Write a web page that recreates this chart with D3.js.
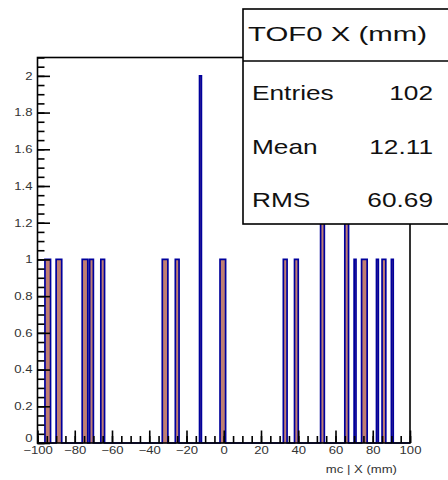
<!DOCTYPE html>
<html>
<head>
<meta charset="utf-8">
<script src="https://cdn.jsdelivr.net/npm/d3@7"></script>
<style>
  html, body { margin: 0; padding: 0; background: #fff; }
  svg { display: block; }
  text { font-family: "Liberation Sans", Arial, Helvetica, sans-serif; }
</style>
</head>
<body>
<div id="chart"></div>
<script>
// TOF0 X (mm): 1 mm bins from -100 to 100, only the filled bins are listed
const binLow  = [-96, -95, -94, -90, -89, -88, -76, -75, -74, -72, -71, -66, -65,
                 -33, -32, -31, -26, -25, -13, -2, -1, 0,
                 32, 33, 38, 39, 52, 53, 65, 66, 70,
                 74, 75, 76, 82, 85, 86, 90];
const binCount = [1, 1, 1, 1, 1, 1, 1, 1, 1, 1, 1, 1, 1,
                  1, 1, 1, 1, 1, 2, 1, 1, 1,
                  1, 1, 1, 1, 2, 2, 2, 2, 1,
                  1, 1, 1, 1, 1, 1, 1];
const xRange = [-100, 100];
const yMax = 2.1;
const xMajorTicks = [-100, -80, -60, -40, -20, 0, 20, 40, 60, 80, 100];
const yMajorTicks = [0, 0.2, 0.4, 0.6, 0.8, 1, 1.2, 1.4, 1.6, 1.8, 2];
const statsTitle = "TOF0 X (mm)";
const statsLabels = ["Entries", "Mean", "RMS"];
const statsValues = ["102", "12.11", "60.69"];
const xTitle = "mc | X (mm)";

const W = 448, H = 480;
const frame = { left: 37.5, right: 410, top: 57.5, bottom: 443 };
const sx = 1.25; // glyphs on this canvas are drawn horizontally widened

const svg = d3.select("#chart").append("svg")
  .attr("width", W).attr("height", H);

const x = d3.scaleLinear().domain(xRange).range([frame.left, frame.right]);
const y = d3.scaleLinear().domain([0, yMax]).range([frame.bottom, frame.top]);

// full bin array so the contour drops to zero between filled bins
const nBins = xRange[1] - xRange[0];
const counts = new Array(nBins).fill(0);
binLow.forEach((lo, i) => { counts[lo - xRange[0]] += binCount[i]; });
const edges = d3.range(nBins + 1).map(i => ({
  e: xRange[0] + i,
  c: i < nBins ? counts[i] : 0
}));

const area = d3.area()
  .curve(d3.curveStepAfter)
  .x(d => x(d.e)).y0(y(0)).y1(d => y(d.c));
const line = d3.line()
  .curve(d3.curveStepAfter)
  .x(d => x(d.e)).y(d => y(d.c));

svg.append("path").datum(edges)
  .attr("d", area)
  .attr("fill", "#c07f72");
svg.append("path").datum(edges)
  .attr("d", line)
  .attr("fill", "none")
  .attr("stroke", "#00009c")
  .attr("stroke-width", 1.7)
  .attr("stroke-linejoin", "miter");

// frame
svg.append("rect")
  .attr("x", frame.left).attr("y", frame.top)
  .attr("width", frame.right - frame.left)
  .attr("height", frame.bottom - frame.top)
  .attr("fill", "none").attr("stroke", "#000").attr("stroke-width", 1.6);

// x axis: major and minor ticks pointing into the frame
const gx = svg.append("g").attr("transform", `translate(0,${frame.bottom})`);
gx.append("g").call(d3.axisBottom(x)
    .tickValues(d3.range(xRange[0], xRange[1] + 1, 5))
    .tickSize(-7).tickFormat(""))
  .call(g => g.select(".domain").remove());
gx.append("g").call(d3.axisBottom(x)
    .tickValues(xMajorTicks).tickSize(-12.5).tickPadding(3)
    .tickFormat(d3.format("~g")))
  .call(g => g.select(".domain").remove());
gx.selectAll("line").attr("stroke", "#000").attr("stroke-width", 1.6);
gx.selectAll("text")
  .attr("y", 3.5)
  .attr("dy", "0.71em")
  .attr("transform", `scale(${sx},1)`)
  .attr("fill", "#333")
  .style("font-size", "10.5px");

// y axis
const gy = svg.append("g").attr("transform", `translate(${frame.left},0)`);
gy.append("g").call(d3.axisLeft(y)
    .tickValues(d3.range(0, yMax + 1e-9, 0.05))
    .tickSize(-7).tickFormat(""))
  .call(g => g.select(".domain").remove());
gy.append("g").call(d3.axisLeft(y)
    .tickValues(yMajorTicks).tickSize(-12.5)
    .tickFormat(d3.format("~g")))
  .call(g => g.select(".domain").remove());
gy.selectAll("line").attr("stroke", "#000").attr("stroke-width", 1.6);
gy.selectAll("text")
  .attr("x", -4)
  .attr("dy", d => d === 0 ? "-0.12em" : "0.32em")
  .attr("transform", `scale(${sx},1)`)
  .attr("fill", "#333")
  .style("font-size", "10.5px");

// axis title
svg.append("text")
  .attr("transform", `translate(397,473) scale(${sx},1)`)
  .attr("text-anchor", "end")
  .attr("fill", "#333")
  .style("font-size", "10.5px")
  .text(xTitle);

// statistics box
const box = { left: 243, top: 9, right: 470, split: 61, bottom: 224 };
svg.append("rect")
  .attr("x", box.left).attr("y", box.top)
  .attr("width", box.right - box.left).attr("height", box.bottom - box.top)
  .attr("fill", "#fff").attr("stroke", "#000").attr("stroke-width", 1.6);
svg.append("line")
  .attr("x1", box.left).attr("x2", box.right)
  .attr("y1", box.split).attr("y2", box.split)
  .attr("stroke", "#000").attr("stroke-width", 1.6);

svg.append("text")
  .attr("transform", `translate(248,41) scale(1.4,1)`)
  .style("font-size", "21px")
  .attr("fill", "#111")
  .text(statsTitle);

const rowBase = [100, 154, 207];
statsLabels.forEach((lab, i) => {
  svg.append("text")
    .attr("transform", `translate(252,${rowBase[i]}) scale(${sx},1)`)
    .style("font-size", "21px")
    .attr("fill", "#111")
    .text(lab);
  svg.append("text")
    .attr("transform", `translate(433,${rowBase[i]}) scale(${sx},1)`)
    .attr("text-anchor", "end")
    .style("font-size", "21px")
    .attr("fill", "#111")
    .text(statsValues[i]);
});
</script>
</body>
</html>
